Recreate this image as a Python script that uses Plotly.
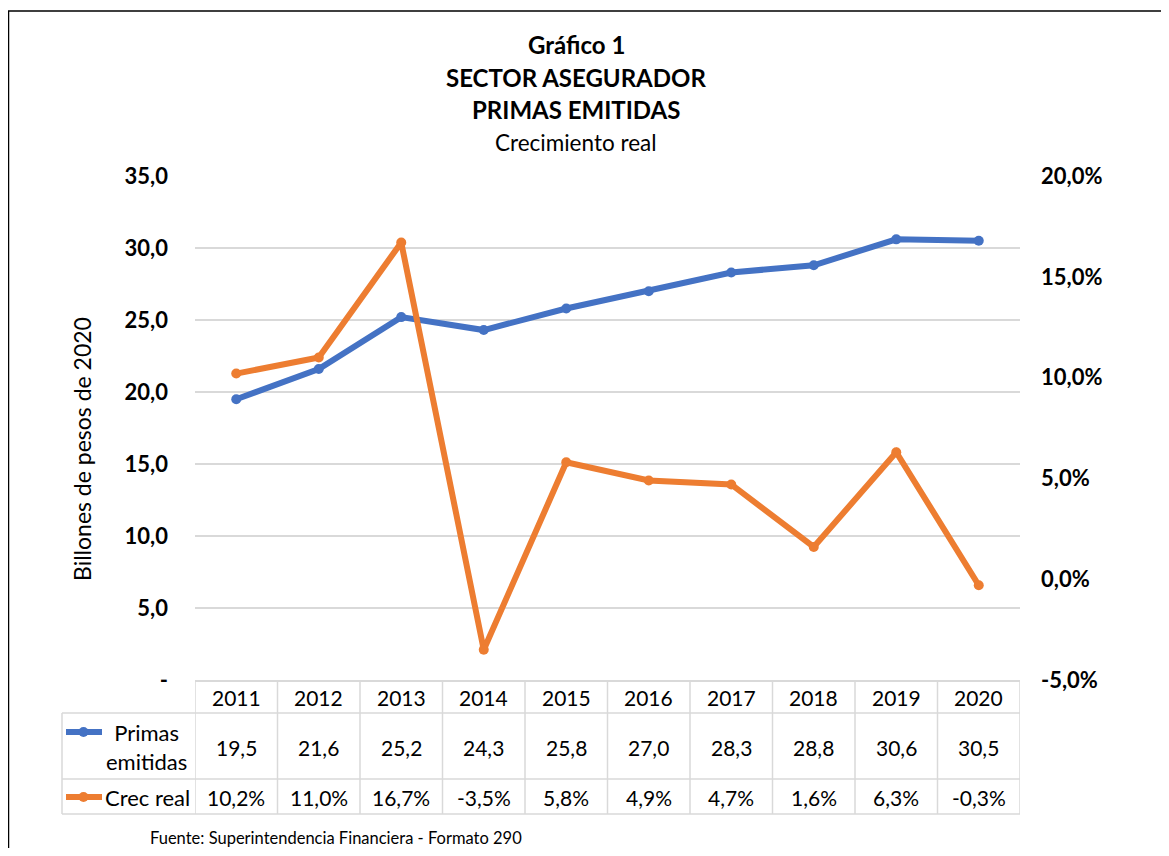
import plotly.graph_objects as go

years = ["2011", "2012", "2013", "2014", "2015", "2016", "2017", "2018", "2019", "2020"]
primas = [19.5, 21.6, 25.2, 24.3, 25.8, 27.0, 28.3, 28.8, 30.6, 30.5]
crec = [10.2, 11.0, 16.7, -3.5, 5.8, 4.9, 4.7, 1.6, 6.3, -0.3]  # percent

left_ticks = [0, 5, 10, 15, 20, 25, 30, 35]
left_ticktext = ["-", "5,0", "10,0", "15,0", "20,0", "25,0", "30,0", "35,0"]
right_ticks = [-5, 0, 5, 10, 15, 20]
right_ticktext = ["-5,0%", "0,0%", "5,0%", "10,0%", "15,0%", "20,0%"]

BLUE = "#4472C4"
ORANGE = "#ED7D31"
GRID = "#d9d9d9"
FONT = "Lato"

OFF = 8  # page body margin
W, H = 1169 - 2 * OFF, 856 - 2 * OFF
L, R, T, B = 195, 1020, 176, 680  # plot area in screenshot pixels


def px(x):
    return (x - L) / (R - L)


def py(y):
    return (B - y) / (B - T)


fig = go.Figure()
fig.add_trace(go.Scatter(x=years, y=primas, mode="lines+markers", name="Primas emitidas",
                         line=dict(color=BLUE, width=6), marker=dict(size=10, color=BLUE),
                         yaxis="y", showlegend=False))
fig.add_trace(go.Scatter(x=years, y=crec, mode="lines+markers", name="Crec real",
                         line=dict(color=ORANGE, width=6), marker=dict(size=10, color=ORANGE),
                         yaxis="y2", showlegend=False))

shapes = []
annotations = []

# outer frame
shapes.append(dict(type="rect", xref="paper", yref="paper", x0=px(8.5), x1=px(1200),
                   y0=py(11), y1=py(900), line=dict(color="black", width=1.5), layer="below"))

# data table lines
line_style = dict(color=GRID, width=1.5)
for yy in [713, 779, 814]:
    shapes.append(dict(type="line", xref="paper", yref="paper", x0=px(62), x1=px(R),
                       y0=py(yy), y1=py(yy), line=line_style))
shapes.append(dict(type="line", xref="paper", yref="paper", x0=px(62), x1=px(62),
                   y0=py(713), y1=py(814), line=line_style))
for i in range(len(years) + 1):
    shapes.append(dict(type="line", xref="x", yref="paper", x0=i - 0.5, x1=i - 0.5,
                       y0=py(680), y1=py(814), line=line_style))

tfont = dict(family=FONT, size=21, color="black")
# table header + values
for i, y in enumerate(years):
    annotations.append(dict(x=i, xref="x", y=py(697), yref="paper", showarrow=False,
                            text=y, font=tfont, xanchor="center", yanchor="middle"))
    annotations.append(dict(x=i, xref="x", y=py(747), yref="paper", showarrow=False,
                            text=f"{primas[i]:.1f}".replace(".", ","), font=tfont,
                            xanchor="center", yanchor="middle"))
    annotations.append(dict(x=i, xref="x", y=py(797), yref="paper", showarrow=False,
                            text=f"{crec[i]:.1f}%".replace(".", ","), font=tfont,
                            xanchor="center", yanchor="middle"))

# legend keys in table
for color, yk in [(BLUE, 732), (ORANGE, 797)]:
    shapes.append(dict(type="line", xref="paper", yref="paper", x0=px(66), x1=px(102),
                       y0=py(yk), y1=py(yk), line=dict(color=color, width=6)))
    shapes.append(dict(type="circle", xref="paper", yref="paper", x0=px(78.5), x1=px(88.5),
                       y0=py(yk + 5), y1=py(yk - 5), fillcolor=color, line=dict(width=0)))

lfont = dict(family=FONT, size=22, color="black")
annotations.append(dict(x=px(146), y=py(747), xref="paper", yref="paper", showarrow=False,
                        text="Primas<br>emitidas", align="center", font=lfont,
                        xanchor="center", yanchor="middle"))
annotations.append(dict(x=px(147), y=py(797), xref="paper", yref="paper", showarrow=False,
                        text="Crec real", font=lfont, xanchor="center", yanchor="middle"))

# titles
title_lines = [("<b>Gráfico 1</b>", 44, 24), ("<b>SECTOR ASEGURADOR</b>", 77, 24),
               ("<b>PRIMAS EMITIDAS</b>", 109, 24), ("Crecimiento real", 142, 22.5)]
for txt, yy, fs in title_lines:
    annotations.append(dict(x=px(576), y=py(yy), xref="paper", yref="paper", showarrow=False,
                            text=txt, font=dict(family=FONT, size=fs, color="black"),
                            xanchor="center", yanchor="middle"))

# y axis title
annotations.append(dict(x=px(82), y=py(449), xref="paper", yref="paper", showarrow=False,
                        text="Billones de pesos de 2020", textangle=-90,
                        font=dict(family=FONT, size=23, color="black"),
                        xanchor="center", yanchor="middle"))

# footer
annotations.append(dict(x=px(148), y=py(838), xref="paper", yref="paper", showarrow=False,
                        text="Fuente: Superintendencia Financiera - Formato 290",
                        font=dict(family=FONT, size=16.5, color="black"),
                        xanchor="left", yanchor="middle"))

fig.update_layout(
    width=W, height=H,
    margin=dict(l=L - OFF, r=W - (R - OFF), t=T - OFF, b=H - (B - OFF), pad=0),
    paper_bgcolor="white", plot_bgcolor="white",
    font=dict(family=FONT, color="black"),
    xaxis=dict(type="category", range=[-0.5, len(years) - 0.5], showgrid=False,
               showline=True, linecolor=GRID, linewidth=1.5, ticks="",
               showticklabels=False, zeroline=False, fixedrange=True),
    yaxis=dict(range=[0, 35], tickvals=left_ticks, ticktext=left_ticktext,
               showgrid=True, gridcolor=GRID, gridwidth=1.5, zeroline=False, showline=False,
               tickfont=dict(family=FONT, size=22, color="black", weight="bold"),
               ticklabelstandoff=26),
    yaxis2=dict(range=[-5, 20], tickvals=right_ticks, ticktext=right_ticktext,
                overlaying="y", side="right", showgrid=False, zeroline=False, showline=False,
                tickfont=dict(family=FONT, size=22, color="black", weight="bold"),
                ticklabelstandoff=20),
    shapes=shapes,
    annotations=annotations,
    showlegend=False,
)

fig.write_html("out.html")
